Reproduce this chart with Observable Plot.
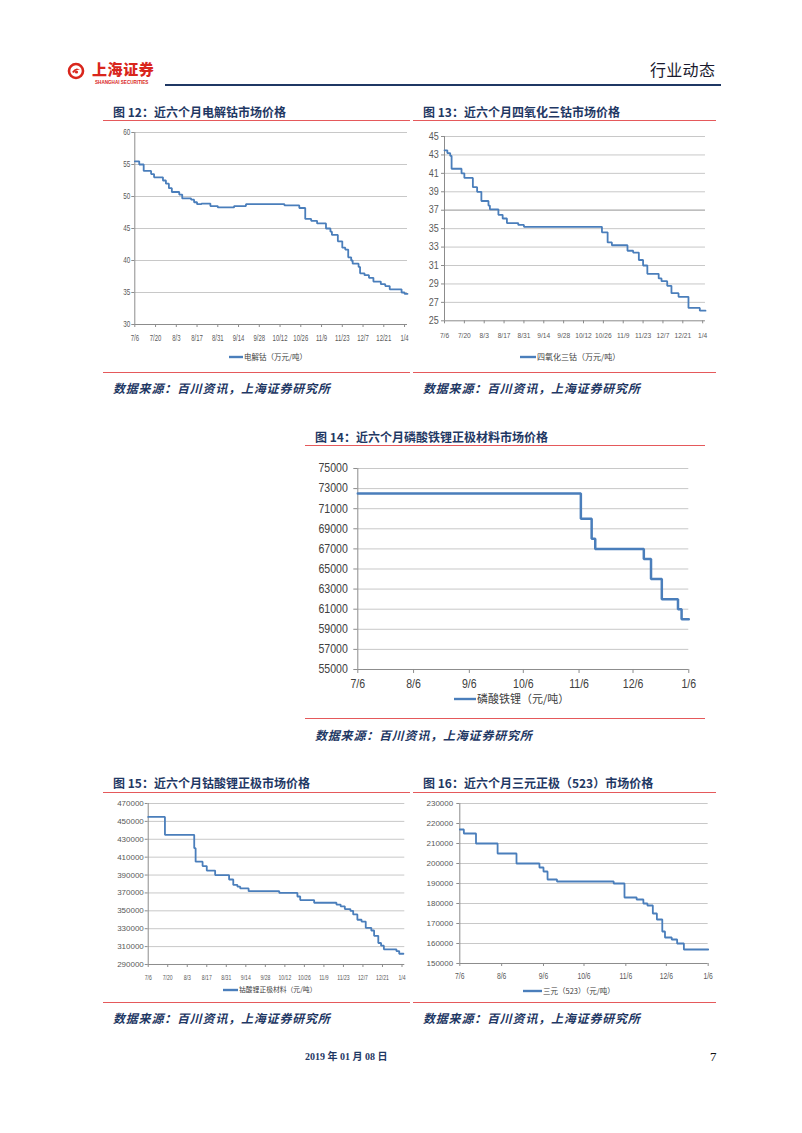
<!DOCTYPE html>
<html><head><meta charset="utf-8">
<script src="https://cdn.jsdelivr.net/npm/d3@7"></script>
<script src="https://cdn.jsdelivr.net/npm/@observablehq/plot@0.6"></script>
<style>
body{margin:0;background:#fff;}
#page{position:relative;width:802px;height:1133px;overflow:hidden;background:#fff;font-family:"Noto Sans CJK SC",sans-serif;}
.abs{position:absolute;white-space:nowrap;}
.title{font-size:12px;font-weight:bold;color:#1f3864;}
.src{font-size:12px;font-weight:bold;font-style:italic;color:#1f3864;letter-spacing:0.8px;}
.rule{position:absolute;height:0;border-top:1.3px solid #e5595b;}
.legend{position:absolute;display:flex;align-items:center;white-space:nowrap;color:#404040;}
.legend span{line-height:1;}
</style></head><body><div id="page"></div>
<script>
// ---------- data ----------
const ticksBiweekly = ["2018-07-06","2018-07-20","2018-08-03","2018-08-17","2018-08-31","2018-09-14","2018-09-28","2018-10-12","2018-10-26","2018-11-09","2018-11-23","2018-12-07","2018-12-21","2019-01-04"];
const ticksMonthly = ["2018-07-06","2018-08-06","2018-09-06","2018-10-06","2018-11-06","2018-12-06","2019-01-06"];

// 图12 电解钴（万元/吨）
const dates12 = ["2018-07-06","2018-07-09","2018-07-12","2018-07-17","2018-07-19","2018-07-25","2018-07-27","2018-07-29","2018-07-31","2018-08-05","2018-08-07","2018-08-13","2018-08-15","2018-08-17","2018-08-20","2018-08-26","2018-08-31","2018-09-11","2018-09-19","2018-10-15","2018-10-25","2018-10-29","2018-11-02","2018-11-06","2018-11-12","2018-11-15","2018-11-16","2018-11-20","2018-11-23","2018-11-25","2018-11-27","2018-11-29","2018-11-30","2018-12-04","2018-12-05","2018-12-08","2018-12-11","2018-12-14","2018-12-19","2018-12-22","2018-12-25","2019-01-02","2019-01-04","2019-01-06"];
const values12 = [55.5,55.0,54.0,53.5,53.0,52.5,52.0,51.3,50.7,50.3,49.7,49.5,49.1,48.8,48.9,48.5,48.3,48.5,48.8,48.6,48.2,46.5,46.2,45.8,45.0,44.5,44.0,43.0,42.0,41.7,40.5,40.0,39.5,39.0,38.0,37.7,37.3,36.7,36.3,36.0,35.5,35.0,34.8,34.8];
const yTicks12 = [30,35,40,45,50,55,60];

// 图13 四氧化三钴（万元/吨）
const dates13 = ["2018-07-06","2018-07-08","2018-07-10","2018-07-11","2018-07-18","2018-07-20","2018-07-26","2018-07-29","2018-08-01","2018-08-06","2018-08-07","2018-08-13","2018-08-16","2018-08-19","2018-08-27","2018-08-31","2018-10-25","2018-10-29","2018-11-01","2018-11-12","2018-11-16","2018-11-20","2018-11-23","2018-11-26","2018-12-04","2018-12-06","2018-12-10","2018-12-13","2018-12-18","2018-12-25","2019-01-02","2019-01-06"];
const values13 = [43.5,43.2,42.9,41.5,41.0,40.5,39.5,39.0,38.0,37.5,37.1,36.5,36.1,35.6,35.4,35.2,34.6,33.5,33.2,32.6,32.4,31.6,31.0,30.1,29.6,29.3,28.8,28.0,27.6,26.4,26.1,26.1];
const yTicks13 = [25,27,29,31,33,35,37,39,41,43,45];

// 图14 磷酸铁锂（元/吨）
const dates14 = ["2018-07-06","2018-11-07","2018-11-13","2018-11-15","2018-12-12","2018-12-16","2018-12-22","2018-12-31","2019-01-02","2019-01-06"];
const values14 = [72500,70000,68000,67000,66000,64000,62000,61000,60000,60000];
const yTicks14 = [55000,57000,59000,61000,63000,65000,67000,69000,71000,73000,75000];

// 图15 钴酸锂正极材料（元/吨）
const dates15 = ["2018-07-06","2018-07-18","2018-08-08","2018-08-09","2018-08-14","2018-08-17","2018-08-23","2018-09-02","2018-09-05","2018-09-08","2018-09-10","2018-09-16","2018-10-08","2018-10-21","2018-10-23","2018-11-02","2018-11-18","2018-11-21","2018-11-24","2018-11-28","2018-11-30","2018-12-03","2018-12-06","2018-12-09","2018-12-13","2018-12-15","2018-12-18","2018-12-20","2018-12-22","2018-12-31","2019-01-02","2019-01-05"];
const values15 = [455000,435000,420000,405000,400000,395000,390000,385000,379000,377000,375000,372000,370000,366000,362000,359000,357000,355000,352000,350000,346000,340000,338000,331000,328000,322000,314000,311000,307000,305000,302000,302000];
const yTicks15 = [290000,310000,330000,350000,370000,390000,410000,430000,450000,470000];

// 图16 三元（523）（元/吨）
const dates16 = ["2018-07-06","2018-07-09","2018-07-18","2018-08-03","2018-08-17","2018-09-03","2018-09-06","2018-09-09","2018-09-16","2018-10-28","2018-11-05","2018-11-14","2018-11-19","2018-11-22","2018-11-26","2018-11-29","2018-12-03","2018-12-05","2018-12-10","2018-12-14","2018-12-19","2019-01-06"];
const values16 = [217000,215000,210000,205000,200000,198000,196000,192000,191000,190000,183000,182000,180000,179000,175000,172000,166000,163000,162000,160000,157000,157000];
const yTicks16 = [150000,160000,170000,180000,190000,200000,210000,220000,230000];

// ---------- helpers ----------
const page = document.getElementById("page");
const parse = d3.utcParse("%Y-%m-%d");
const fmtMD = d => `${d.getUTCMonth()+1}/${d.getUTCDate()}`;
const LINE = "#4a7ebb";

function el(tag, cls, css, text){
  const e = document.createElement(tag);
  if (cls) e.className = cls;
  Object.assign(e.style, css);
  if (text != null) e.textContent = text;
  page.appendChild(e);
  return e;
}
function textAt(cls, x, cy, text, extra = {}){
  return el("div", "abs " + cls, {left: x + "px", top: (cy - 9) + "px", lineHeight: "18px", ...extra}, text);
}
function rule(x0, x1, y){
  el("div", "rule", {left: x0 + "px", width: (x1 - x0) + "px", top: (y - 0.6) + "px"});
}
function legend(x, cy, sw, text, fs){
  const h = Math.ceil(fs * 1.1);
  const d = el("div", "legend", {left: x + "px", top: (cy - h / 2) + "px", height: h + "px", fontSize: fs + "px"});
  d.innerHTML = `<svg width="${sw}" height="4" style="display:block;margin-right:1px"><line x1="0" x2="${sw}" y1="2" y2="2" stroke="${LINE}" stroke-width="2.4"/></svg><span>${text}</span>`;
}

function chart(c){
  const data = c.dates.map((d, i) => ({date: parse(d), value: c.values[i]}));
  const xd = c.xDomain.map(parse);
  const y0 = c.yTicks[0], y1 = c.yTicks[c.yTicks.length - 1];
  const width = (c.px[1] - c.px[0]) + c.mL + c.mR;
  const height = (c.py[1] - c.py[0]) + c.mT + c.mB;
  const svg = Plot.plot({
    width, height,
    marginLeft: c.mL, marginRight: c.mR, marginTop: c.mT, marginBottom: c.mB,
    style: {fontFamily: "'Liberation Sans', Arial, sans-serif", fontSize: c.fsX + "px", color: c.color, background: "transparent", overflow: "visible"},
    x: {type: "utc", domain: xd, ticks: c.xTicks.map(parse), tickFormat: fmtMD, tickSize: c.tsx, tickPadding: c.tpx, label: null},
    y: {domain: [y0, y1], ticks: c.yTicks, tickSize: c.tsy, tickPadding: c.tpy, label: null, tickFormat: d => String(d)},
    marks: [
      Plot.ruleY(c.yTicks.slice(1), {stroke: d => (c.dark && c.dark.includes(d)) ? "#a8a8a8" : "#c8c8c8", strokeWidth: d => (c.dark && c.dark.includes(d)) ? 1.3 : 1}),
      Plot.ruleY([y0], {stroke: "#8c8c8c"}),
      Plot.ruleX([xd[0]], {stroke: "#8c8c8c"}),
      Plot.line(data, {x: "date", y: "value", curve: "step-after", stroke: LINE, strokeWidth: c.lw, strokeLinejoin: "miter"})
    ]
  });
  svg.style.position = "absolute";
  svg.style.left = (c.px[0] - c.mL) + "px";
  svg.style.top = (c.py[0] - c.mT) + "px";
  page.appendChild(svg);
  ["x", "y"].forEach(a => {
    svg.querySelectorAll(`g[aria-label="${a}-axis tick"]`).forEach(g => g.setAttribute("stroke", "#8c8c8c"));
    if (a === "y" && c.fsY) svg.querySelectorAll(`g[aria-label="y-axis tick label"]`).forEach(g => g.setAttribute("font-size", c.fsY + "px"));
    const s = a === "x" ? c.sqX : c.sqY;
    if (s && s !== 1) {
      svg.querySelectorAll(`g[aria-label^="${a}-axis"] text`).forEach(t => {
        const L = t.getComputedTextLength();
        t.setAttribute("textLength", (L * s).toFixed(2));
        t.setAttribute("lengthAdjust", "spacingAndGlyphs");
      });
    }
  });
}

// ---------- header ----------
const logo = el("div", "abs", {left: "67px", top: "61px"});
logo.innerHTML = `<svg width="18" height="18" viewBox="0 0 18 18"><circle cx="9" cy="9" r="7" fill="none" stroke="#d9261c" stroke-width="2.6"/><path d="M5 10 Q9 4 13 8 Q9 7 7 11 Z" fill="#d9261c"/><circle cx="9.5" cy="10" r="1.6" fill="#d9261c"/></svg>`;
textAt("", 92, 69, "上海证券", {fontSize: "15px", fontWeight: "900", color: "#d9261c", letterSpacing: "0.6px"});
textAt("", 95, 83, "SHANGHAI SECURITIES", {fontSize: "4.6px", fontWeight: "bold", color: "#d9261c", fontFamily: "'Liberation Sans', Arial, sans-serif", lineHeight: "6px", top: "80px"});
el("div", "abs", {left: "165px", top: "84px", width: "556px", height: "2px", background: "#1f3864"});
textAt("", 650, 69, "行业动态", {fontSize: "16px", color: "#1a1a2e", letterSpacing: "0.3px"});

// ---------- 图12 ----------
textAt("title", 113, 112, "图 12：近六个月电解钴市场价格");
rule(103, 410, 120.5);
chart({dates: dates12, values: values12, yTicks: yTicks12, xTicks: ticksBiweekly, xDomain: ["2018-07-06","2019-01-06"],
  px: [134.3, 407], py: [132, 324], mL: 34.3, mR: 3, mT: 8, mB: 22,
  fsX: 8.5, color: "#595959", tsx: 3, tpx: 7, tsy: 3, tpy: 1.5, sqX: 0.7, sqY: 0.75, lw: 1.8});
legend(229, 357, 14, "电解钴（万元/吨）", 7.5);
rule(103, 410, 373);
textAt("src", 113, 388, "数据来源：百川资讯，上海证券研究所");

// ---------- 图13 ----------
textAt("title", 423, 112, "图 13：近六个月四氧化三钴市场价格");
rule(413, 716, 120.5);
chart({dates: dates13, values: values13, yTicks: yTicks13, xTicks: ticksBiweekly, xDomain: ["2018-07-06","2019-01-06"],
  px: [444, 705], py: [135.7, 320], mL: 34, mR: 8, mT: 8, mB: 22, dark: [37],
  fsX: 7.8, fsY: 10, color: "#595959", tsx: 3, tpx: 9, tsy: 3, tpy: 2.7, sqX: 0.85, sqY: 0.9, lw: 1.8});
legend(520, 357, 16, "四氧化三钴（万元/吨）", 8);
rule(413, 716, 373);
textAt("src", 423, 388, "数据来源：百川资讯，上海证券研究所");

// ---------- 图14 ----------
textAt("title", 315, 437, "图 14：近六个月磷酸铁锂正极材料市场价格");
rule(305, 705, 446);
chart({dates: dates14, values: values14, yTicks: yTicks14, xTicks: ticksMonthly, xDomain: ["2018-07-06","2019-01-06"],
  px: [357.3, 688.3], py: [468.3, 669.3], mL: 52.3, mR: 15, mT: 10, mB: 24,
  fsX: 12, color: "#404040", tsx: 4, tpx: 5.5, tsy: 4, tpy: 6, sqX: 0.88, sqY: 0.88, lw: 2.5});
legend(454, 698.5, 22, "磷酸铁锂（元/吨）", 11);
rule(305, 705, 719);
textAt("src", 315, 735, "数据来源：百川资讯，上海证券研究所");

// ---------- 图15 ----------
textAt("title", 113, 783, "图 15：近六个月钴酸锂正极市场价格");
rule(103, 410, 792.3);
chart({dates: dates15, values: values15, yTicks: yTicks15, xTicks: ticksBiweekly, xDomain: ["2018-07-06","2019-01-06"],
  px: [147.7, 404.3], py: [803.3, 964.3], mL: 47.7, mR: 8, mT: 8, mB: 20,
  fsX: 7.5, fsY: 8, color: "#595959", tsx: 3, tpx: 6.7, tsy: 3, tpy: 1.4, sqX: 0.68, sqY: 1, lw: 1.8});
legend(223, 989.5, 15, "钴酸锂正极材料（元/吨）", 6.8);
rule(103, 410, 1002.3);
textAt("src", 113, 1018, "数据来源：百川资讯，上海证券研究所");

// ---------- 图16 ----------
textAt("title", 423, 783, "图 16：近六个月三元正极（523）市场价格");
rule(413, 716, 792.3);
chart({dates: dates16, values: values16, yTicks: yTicks16, xTicks: ticksMonthly, xDomain: ["2018-07-06","2019-01-06"],
  px: [459.3, 707.7], py: [803.3, 963.3], mL: 49.3, mR: 10, mT: 8, mB: 20,
  fsX: 8.5, fsY: 8, color: "#595959", tsx: 3, tpx: 6.3, tsy: 3, tpy: 3.6, sqX: 0.8, sqY: 1, lw: 1.8});
legend(523, 990.5, 19, "三元（523）（元/吨）", 7.5);
rule(413, 716, 1002.3);
textAt("src", 423, 1018, "数据来源：百川资讯，上海证券研究所");

// ---------- footer ----------
textAt("", 305, 1057, "2019 年 01 月 08 日", {fontSize: "10px", fontWeight: "bold", color: "#1f3864", fontFamily: "'Liberation Serif', 'Noto Sans CJK SC', serif"});
textAt("", 710, 1057, "7", {fontSize: "13px", color: "#111", fontFamily: "'Liberation Serif', serif"});
</script></body></html>
